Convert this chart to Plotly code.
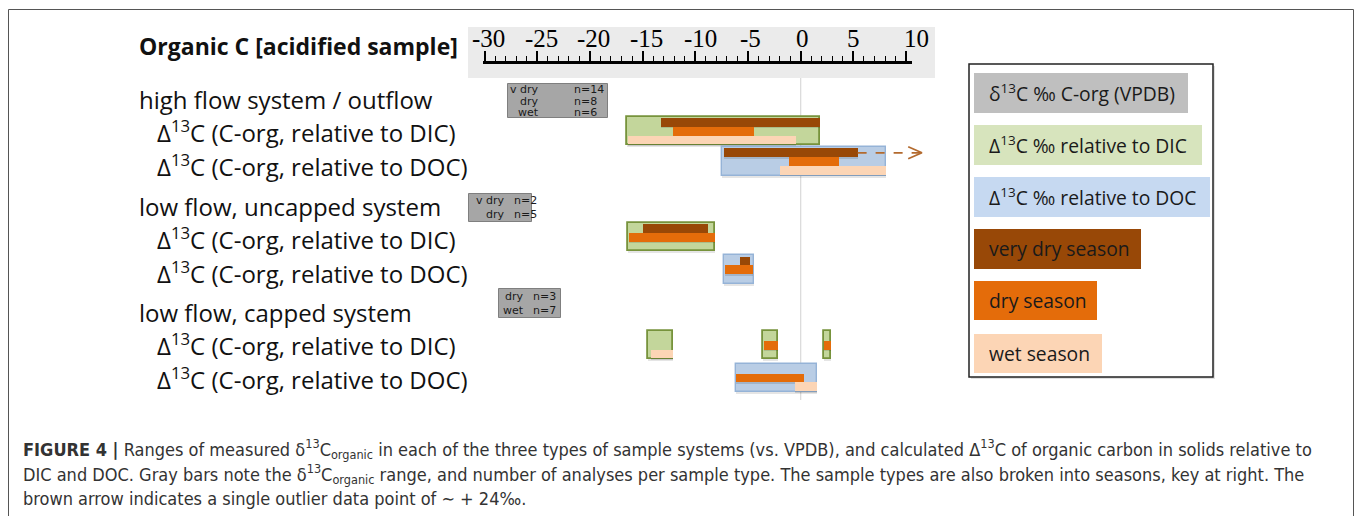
import plotly.graph_objects as go

W, H = 1357, 516
X0, S = 800.7, 10.54  # pixel of x=0 and pixels per permil

# ---------------- data ----------------
systems = ["high flow system / outflow", "low flow, uncapped system", "low flow, capped system"]
ref_labels = ["Δ<sup>13</sup>C (C-org, relative to DIC)", "Δ<sup>13</sup>C (C-org, relative to DOC)"]
season_names = ["very dry season", "dry season", "wet season"]
season_short = ["v dry", "dry", "wet"]

# δ13C C-org (VPDB) range per system (gray bars)
delta_lo = [-27.8, -31.5, -28.6]
delta_hi = [-18.3, -25.5, -22.7]
# number of analyses per season per system (None = not sampled)
n_high = [14, 8, 6]
n_uncapped = [2, 5, None]
n_capped = [None, 3, 7]

# Δ13C envelopes (lo, hi) for rows: high DIC, high DOC, uncapped DIC, uncapped DOC, capped DIC, capped DOC
env_high_dic = [(-16.5, 1.8)]
env_high_doc = [(-7.5, 8.1)]
env_unc_dic = [(-16.4, -8.1)]
env_unc_doc = [(-7.3, -4.4)]
env_cap_dic = [(-14.5, -12.1), (-3.6, -2.2), (2.2, 2.9)]
env_cap_doc = [(-6.1, 1.5)]

# season ranges per row: [very dry, dry, wet]
vdry_ranges = [[(-13.3, 1.8)], [(-7.3, 5.4)], [(-15.0, -8.8)], [(-5.8, -4.8)], [], []]
dry_ranges = [[(-12.1, -4.4)], [(-1.1, 3.6)], [(-16.3, -8.1)], [(-7.2, -4.5)],
              [(-3.5, -2.2), (2.2, 2.9)], [(-6.1, 0.3)]]
wet_ranges = [[(-16.4, -0.4)], [(-2.0, 8.1)], [], [], [(-14.2, -12.1)], [(-0.5, 1.5)]]
outlier_value = 24.0  # single very-dry outlier (high flow, DOC)

tick_vals = [-30, -25, -20, -15, -10, -5, 0, 5, 10]
tick_text = ["-30", "-25", "-20", "-15", "-10", "-5", "0", "5", "10"]

# ---------------- layout constants (pixels) ----------------
dic_centers = [131, 237.2, 345]
doc_centers = [161.4, 269.5, 377.8]
row_centers = [dic_centers[0], doc_centers[0], dic_centers[1], doc_centers[1], dic_centers[2], doc_centers[2]]
row_is_dic = [True, False, True, False, True, False]
lane_offset = [-8.6, 0.2, 8.9]
lane_h = 8.8
env_h = 28.2
header_y = [99, 206, 312]
gray_box_y = [(84, 118), (193.5, 222), (289, 318)]
tick_label_dx = [3.5, 4, 4, 3.5, 5, 2.5, 2, 0, 10]

C_VDRY = "#984807"
C_DRY = "#e46c0a"
C_WET = "#fcd5b5"
C_DIC = "#c3d69b"
C_DIC_LINE = "#77933c"
C_DOC = "#b9cde5"
C_DOC_LINE = "#95b3d7"
C_GRAY = "#a6a6a6"

LABEL_FONT = "Open Sans"


def px(x):
    return x / W


def py(y):
    return 1 - y / H


fig = go.Figure()

# gray delta13C boxes
for i in range(3):
    y0, y1 = gray_box_y[i]
    fig.add_trace(go.Bar(orientation="h", y=[(y0 + y1) / 2], x=[delta_hi[i] - delta_lo[i]], base=[delta_lo[i]],
                         width=[y1 - y0], marker=dict(color=C_GRAY, line=dict(color="#7f7f7f", width=1)),
                         showlegend=False, hoverinfo="skip"))

# envelopes
envs = [env_high_dic, env_high_doc, env_unc_dic, env_unc_doc, env_cap_dic, env_cap_doc]
for r, env in enumerate(envs):
    fill = C_DIC if row_is_dic[r] else C_DOC
    line = C_DIC_LINE if row_is_dic[r] else C_DOC_LINE
    lw = 1.8 if row_is_dic[r] else 1.4
    fig.add_trace(go.Bar(orientation="h", y=[row_centers[r] + 2] * len(env), x=[b - a for a, b in env],
                         base=[a for a, b in env], width=[env_h] * len(env),
                         marker=dict(color="rgba(0,0,0,0.10)", line=dict(width=0)),
                         showlegend=False, hoverinfo="skip"))
    fig.add_trace(go.Bar(orientation="h", y=[row_centers[r]] * len(env), x=[b - a for a, b in env],
                         base=[a for a, b in env], width=[env_h] * len(env),
                         marker=dict(color=fill, line=dict(color=line, width=lw)),
                         showlegend=False, hoverinfo="skip"))

# season bars
for s, (ranges, col) in enumerate([(vdry_ranges, C_VDRY), (dry_ranges, C_DRY), (wet_ranges, C_WET)]):
    ys, xs, bs = [], [], []
    for r, lst in enumerate(ranges):
        for a, b in lst:
            ys.append(row_centers[r] + lane_offset[s])
            xs.append(b - a)
            bs.append(a)
    fig.add_trace(go.Bar(orientation="h", y=[v + 1.5 for v in ys], x=xs, base=bs, width=lane_h,
                         marker=dict(color="rgba(0,0,0,0.12)", line=dict(width=0)),
                         showlegend=False, hoverinfo="skip"))
    fig.add_trace(go.Bar(orientation="h", y=ys, x=xs, base=bs, width=lane_h,
                         marker=dict(color=col, line=dict(width=0)), name=season_names[s],
                         showlegend=False, hoverinfo="skip"))

# outlier arrow (dashed, toward +24, clipped at display edge)
arrow_end = 11.5
y_arrow = row_centers[1] + lane_offset[0]
fig.add_trace(go.Scatter(x=[vdry_ranges[1][0][1], arrow_end - 0.1], y=[y_arrow, y_arrow], mode="lines",
                         line=dict(color="#b36a2e", width=1.8, dash="dash"), showlegend=False, hoverinfo="skip"))
fig.add_trace(go.Scatter(x=[arrow_end - 1.3, arrow_end, arrow_end - 1.3], y=[y_arrow - 6, y_arrow, y_arrow + 6],
                         mode="lines", line=dict(color="#b36a2e", width=1.8), showlegend=False, hoverinfo="skip"))

shapes = []
# outer frame
shapes.append(dict(type="rect", xref="paper", yref="paper", x0=px(8.5), x1=px(1353.5), y0=py(530), y1=py(9.5),
                   line=dict(color="#555555", width=1), layer="below"))
# axis gray background
shapes.append(dict(type="rect", xref="paper", yref="paper", x0=px(468), x1=px(935), y0=py(78), y1=py(27),
                   fillcolor="#ebebeb", line=dict(width=0), layer="below"))
# zero line
shapes.append(dict(type="line", xref="x", yref="paper", x0=0, x1=0, y0=py(400), y1=py(78),
                   line=dict(color="#d9d9d9", width=1.2), layer="below"))
# legend box
shapes.append(dict(type="rect", xref="paper", yref="paper", x0=px(971), x1=px(1215), y0=py(379), y1=py(66),
                   fillcolor="rgba(0,0,0,0.12)", line=dict(width=0), layer="below"))
shapes.append(dict(type="rect", xref="paper", yref="paper", x0=px(969), x1=px(1213), y0=py(377), y1=py(64),
                   fillcolor="white", line=dict(color="#222222", width=1.5), layer="below"))

legend_items = [
    ("δ<sup>13</sup>C ‰ C-org (VPDB)", "#bfbfbf", 73, 113, 1188),
    ("Δ<sup>13</sup>C ‰ relative to DIC", "#d7e4bd", 125, 165, 1202),
    ("Δ<sup>13</sup>C ‰ relative to DOC", "#c6d9f1", 177, 217, 1210),
    (season_names[0], C_VDRY, 229, 269, 1141),
    (season_names[1], C_DRY, 281, 320, 1097),
    (season_names[2], C_WET, 334, 373, 1102),
]
annotations = []
for txt, col, y0, y1, x1 in legend_items:
    shapes.append(dict(type="rect", xref="paper", yref="paper", x0=px(974), x1=px(x1), y0=py(y1), y1=py(y0),
                       fillcolor=col, line=dict(width=0), layer="below"))
    annotations.append(dict(x=px(987), y=py((y0 + y1) / 2), xref="paper", yref="paper", text=txt,
                            showarrow=False, xanchor="left", yanchor="middle",
                            font=dict(family=LABEL_FONT, size=19.3, color="#1a1a1a")))

# title and row labels
annotations.append(dict(x=px(137), y=py(46), xref="paper", yref="paper", text="<b>Organic C [acidified sample]</b>",
                        showarrow=False, xanchor="left", yanchor="middle",
                        font=dict(family=LABEL_FONT, size=23, color="#111111")))
for i in range(3):
    annotations.append(dict(x=px(137), y=py(header_y[i]), xref="paper", yref="paper", text=systems[i],
                            showarrow=False, xanchor="left", yanchor="middle",
                            font=dict(family=LABEL_FONT, size=24, color="#111111")))
    for j in range(2):
        yc = header_y[i] + 32.5 + 33.5 * j
        annotations.append(dict(x=px(155), y=py(yc), xref="paper", yref="paper", text=ref_labels[j],
                                showarrow=False, xanchor="left", yanchor="middle",
                                font=dict(family=LABEL_FONT, size=24, color="#111111")))

# gray box text (season / n)
counts = [n_high, n_uncapped, n_capped]
label_right = [541, 507, 526]
n_left = [572, 512, 531]
for i in range(3):
    present = [k for k in range(3) if counts[i][k] is not None]
    y0, y1 = gray_box_y[i]
    step = (y1 - y0) / len(present)
    for m, k in enumerate(present):
        yc = y0 + step * (m + 0.5)
        annotations.append(dict(x=px(label_right[i]), y=py(yc), xref="paper", yref="paper", text=season_short[k],
                                showarrow=False, xanchor="right", yanchor="middle",
                                font=dict(family="DejaVu Sans", size=11, color="#1a1a1a")))
        annotations.append(dict(x=px(n_left[i]), y=py(yc), xref="paper", yref="paper", text="n=%d" % counts[i][k],
                                showarrow=False, xanchor="left", yanchor="middle",
                                font=dict(family="DejaVu Sans", size=11, color="#1a1a1a")))

# ruler tick labels (placed on the ruler axis by value)
for v, t, dx in zip(tick_vals, tick_text, tick_label_dx):
    annotations.append(dict(x=v, y=py(38.5), xref="x2", yref="paper", text=t, showarrow=False,
                            xanchor="center", yanchor="middle", xshift=dx,
                            font=dict(family="Liberation Serif", size=25, color="black")))

# caption
cap_font = dict(family="DejaVu Sans Condensed, Liberation Sans", size=18, color="#333333")
caption_lines = [
    "<b>FIGURE 4 |</b> Ranges of measured δ<sup>13</sup>C<sub>organic</sub> in each of the three types of sample systems (vs. VPDB), and calculated Δ<sup>13</sup>C of organic carbon in solids relative to",
    "DIC and DOC. Gray bars note the δ<sup>13</sup>C<sub>organic</sub> range, and number of analyses per sample type. The sample types are also broken into seasons, key at right. The",
    "brown arrow indicates a single outlier data point of ∼ + 24‰.",
]
for k, line in enumerate(caption_lines):
    annotations.append(dict(x=px(21), y=py(449 + 24.5 * k), xref="paper", yref="paper", text=line,
                            showarrow=False, xanchor="left", yanchor="middle", font=cap_font))

xr_full = [(0 - X0) / S, (W - X0) / S]
ruler_l, ruler_r = 483, 912

fig.update_layout(
    width=W, height=H, margin=dict(l=0, r=0, t=0, b=0, pad=0, autoexpand=False),
    paper_bgcolor="white", plot_bgcolor="rgba(0,0,0,0)",
    barmode="overlay", bargap=0, showlegend=False,
    shapes=shapes, annotations=annotations,
    xaxis=dict(range=xr_full, domain=[0, 1], visible=False, fixedrange=True, automargin=False),
    yaxis=dict(range=[H, 0], domain=[0, 1], visible=False, fixedrange=True, automargin=False),
    xaxis2=dict(range=[(ruler_l - X0) / S, (ruler_r - X0) / S], domain=[px(ruler_l), px(ruler_r)],
                anchor="free", position=py(62), side="top", automargin=False,
                tickvals=tick_vals, ticktext=tick_text, showticklabels=False,
                ticks="outside", ticklen=10, tickwidth=2,
                tickcolor="black", showline=True, linecolor="black", linewidth=3, showgrid=False,
                zeroline=False, minor=dict(dtick=1, ticks="outside", ticklen=5, tickwidth=1.3, tickcolor="black"),
                fixedrange=True),
    yaxis2=dict(anchor="x2", domain=[0, 1], range=[0, 1], visible=False, fixedrange=True, automargin=False),
)
# empty trace that carries the ruler axis
fig.add_trace(go.Scatter(x=[None], y=[None], xaxis="x2", yaxis="y2", showlegend=False, hoverinfo="skip"))

fig.write_html("out.html")
